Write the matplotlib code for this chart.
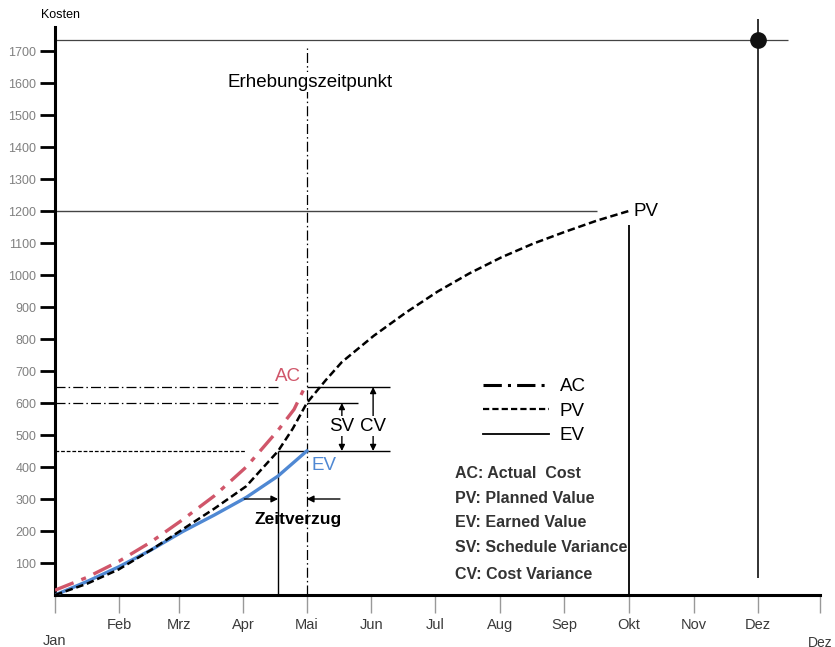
import matplotlib.pyplot as plt
from matplotlib.lines import Line2D

plt.rcParams['font.family'] = ['Liberation Sans', 'DejaVu Sans']

# month labels and their positions (0 = Jan ... 12 = end of year)
months = ['Jan', 'Feb', 'Mrz', 'Apr', 'Mai', 'Jun', 'Jul', 'Aug', 'Sep', 'Okt', 'Nov', 'Dez', 'Dez']
month_pos = [0, 1.01, 1.95, 2.95, 3.95, 4.96, 5.96, 6.98, 7.99, 9.0, 10.02, 11.02, 12]
y_ticks = list(range(100, 1800, 100))

# curves (x in months since Jan)
pv_x = [0, 0.5, 1, 1.5, 2, 2.5, 3, 3.5, 3.73, 3.95, 4.25, 4.5, 5, 5.5, 6, 6.5, 7, 7.5, 8, 8.5, 9]
pv_y = [0, 35, 80, 140, 205, 270, 340, 450, 520, 600, 672, 728, 810, 882, 948, 1005, 1055, 1098, 1135, 1170, 1200]
ev_x = [0, 0.5, 1, 1.5, 2, 2.5, 3, 3.5, 3.95]
ev_y = [0, 42, 88, 140, 198, 250, 305, 372, 450]
ac_x = [0, 0.5, 1, 1.5, 2, 2.5, 3, 3.5, 3.75, 3.92]
ac_y = [15, 55, 105, 165, 235, 310, 400, 515, 580, 650]

# key values
ac_now, pv_now, ev_now = 650, 600, 450
pv_total = 1200
stichtag = 3.95       # Mai
zv_start = 3.5        # PV reached EV level
pv_end = 9            # Okt
top_level = 1735
end_month = 11.02

definitions = ['AC: Actual  Cost', 'PV: Planned Value', 'EV: Earned Value',
               'SV: Schedule Variance', 'CV: Cost Variance']
def_y = [380, 302, 227, 149, 65]

ac_color = '#d0566a'
ev_color = '#4f88d3'
dashdot = (0, (8, 2.5, 1.2, 2.5))


def main():
    fig = plt.figure(figsize=(8.35, 6.47), dpi=100)
    ax = fig.add_axes([55/835, 1-595/647, (820-55)/835, (595-27)/647])
    ax.set_xlim(0, 12)
    ax.set_ylim(0, 1775)

    for s in ['top', 'right']:
        ax.spines[s].set_visible(False)
    for s in ['left', 'bottom']:
        ax.spines[s].set_linewidth(2.2)
        ax.spines[s].set_color('black')

    ax.set_yticks(y_ticks)
    ax.set_yticklabels([str(v) for v in y_ticks])
    ax.tick_params(axis='y', length=11, width=2, color='black', labelcolor='#808080',
                   labelsize=9, pad=2.5)
    ax.set_xticks(month_pos)
    ax.set_xticklabels(months)
    ax.tick_params(axis='x', length=13, width=1, color='#999999', labelcolor='#3a3a3a',
                   labelsize=10.5, pad=3.5)
    ticks = ax.xaxis.get_major_ticks()
    ticks[0].set_pad(15)
    ticks[-1].set_pad(16.5)
    ticks[-1].label1.set_fontsize(10)

    fig.text(61/835, 1-15/647, 'Kosten', ha='center', va='center', fontsize=9)

    # curves
    ax.plot(ev_x, ev_y, color=ev_color, lw=2.4, zorder=3)
    ax.plot(pv_x, pv_y, color='black', lw=1.8, ls=(0, (3, 1.5)), zorder=4)
    ax.plot(ac_x, ac_y, color=ac_color, lw=2.4, ls=(0, (6, 2.5, 1.5, 2.5)), zorder=4)

    # reference lines
    ax.hlines([ac_now, pv_now], 0, zv_start, colors='black', lw=0.9, linestyles=[dashdot])
    ax.hlines(ev_now, 0, 3.0, colors='black', lw=0.9, linestyles=[(0, (3, 1.5))])
    ax.hlines(ac_now, stichtag, 5.25, colors='black', lw=1)
    ax.hlines(pv_now, stichtag, 4.75, colors='black', lw=1)
    ax.hlines(ev_now, zv_start, 5.25, colors='black', lw=1)
    ax.vlines(zv_start, 0, ev_now, colors='black', lw=1)
    ax.vlines(stichtag, 0, 1710, colors='black', lw=0.9, linestyles=[dashdot])
    ax.hlines(pv_total, 0, 8.5, colors='#444444', lw=1)
    ax.vlines(pv_end, 0, 1155, colors='black', lw=1.3)
    ax.hlines(top_level, 0, 11.5, colors='#444444', lw=0.9)
    ax.vlines(end_month, 53, 1800, colors='#222222', lw=1.3, clip_on=False)
    ax.plot(end_month, top_level, 'o', ms=11, color='#111111', zorder=5)

    # arrows
    arr = dict(arrowstyle='-|>', color='black', lw=1, mutation_scale=10, shrinkA=0, shrinkB=0)
    ax.annotate('', xy=(zv_start, 300), xytext=(2.97, 300), arrowprops=arr)
    ax.annotate('', xy=(stichtag, 300), xytext=(4.47, 300), arrowprops=arr)
    arr2 = dict(arrowstyle='<|-|>', color='black', lw=1, mutation_scale=9, shrinkA=0, shrinkB=0)
    ax.annotate('', xy=(4.5, pv_now), xytext=(4.5, ev_now), arrowprops=arr2)
    ax.annotate('', xy=(4.99, ac_now), xytext=(4.99, ev_now), arrowprops=arr2)
    box = dict(fc='white', ec='none', pad=1)
    ax.text(4.5, 528, 'SV', ha='center', va='center', fontsize=13.5, bbox=box, zorder=6)
    ax.text(4.99, 528, 'CV', ha='center', va='center', fontsize=13.5, bbox=box, zorder=6)

    # labels
    ax.text(3.65, 684, 'AC', color=ac_color, fontsize=13.5, ha='center', va='center')
    ax.text(4.03, 406, 'EV', color=ev_color, fontsize=13.5, ha='left', va='center')
    ax.text(9.07, pv_total, 'PV', fontsize=13.5, ha='left', va='center')
    ax.text(3.81, 236, 'Zeitverzug', fontsize=12.5, fontweight='bold', ha='center', va='center')
    ax.text(4.0, 1603, 'Erhebungszeitpunkt', fontsize=13.5, ha='center', va='center',
            bbox=dict(fc='white', ec='none', pad=1), zorder=6)

    # legend
    handles = [Line2D([], [], color='black', lw=2.2, ls=(0, (6, 2, 1, 2))),
               Line2D([], [], color='black', lw=1.6, ls=(0, (2.8, 1.4))),
               Line2D([], [], color='black', lw=1.3)]
    ax.legend(handles, ['AC', 'PV', 'EV'], loc='upper left', bbox_to_anchor=(483/835, 1-378/647),
              bbox_transform=fig.transFigure, frameon=False, handlelength=3.5, handletextpad=0.6,
              labelspacing=0.4, fontsize=13.5, borderaxespad=0, borderpad=0)

    for txt, yy in zip(definitions, def_y):
        ax.text(6.27, yy, txt, fontsize=11.5, fontweight='bold', color='#333333', ha='left', va='center')

    fig.savefig('out.png', dpi=100)


if __name__ == '__main__':
    main()
